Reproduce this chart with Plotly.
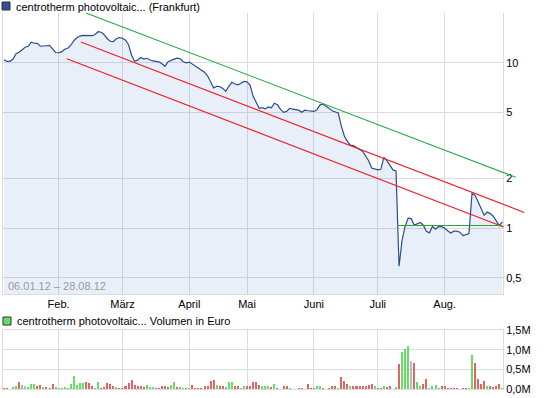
import math
import pandas as pd
import plotly.graph_objects as go

# ---------------- data ----------------
HOLIDAYS = ["2012-04-06", "2012-04-09", "2012-05-01"]
dates = [d for d in pd.bdate_range("2012-01-06", "2012-08-28") if d.strftime("%Y-%m-%d") not in HOLIDAYS]

price = [
    10.43, 10.21, 10.21, 10.53, 11.34, 11.58, 11.99, 12.42, 12.59, 13.32,
    13.13, 13.10, 12.59, 12.59, 12.68, 12.73, 12.07, 11.54, 11.50, 11.63,
    12.07, 12.24, 12.77, 13.60, 14.18, 14.51, 14.63, 14.63, 14.61, 14.58,
    14.82, 15.41, 15.30, 14.78, 13.98, 13.50, 13.41, 13.98, 14.21, 14.07,
    13.69, 12.86, 11.10, 10.21, 10.38, 10.77, 10.53, 10.65, 10.43, 10.26,
    10.21, 10.14, 9.86, 9.52, 10.14, 10.36, 10.53, 10.68, 10.58, 10.14,
    10.00, 10.10, 9.83, 9.52, 9.22, 9.01, 8.78, 8.34, 7.67, 7.05,
    7.21, 7.19, 7.00, 6.72, 7.21, 7.62, 7.44, 7.36, 7.52, 7.71,
    7.67, 7.31, 6.27, 5.81, 5.30, 5.35, 5.26, 5.41, 5.34, 5.69,
    5.57, 5.23, 5.01, 5.08, 5.30, 5.24, 5.20, 5.17, 5.02, 5.17,
    5.13, 5.10, 5.08, 5.19, 5.57, 5.63, 5.49, 5.30, 5.13, 5.04,
    4.97, 4.15, 3.61, 3.35, 3.18, 3.16, 3.07, 3.02, 2.92, 2.73,
    2.56, 2.31, 2.28, 2.25, 2.27, 2.68, 2.56, 2.39, 2.25, 2.22,
    0.589, 0.846, 1.028, 1.150, 1.142, 1.043, 1.068, 1.083, 1.043, 0.959,
    0.937, 1.028, 0.987, 1.024, 1.021, 1.002, 0.966, 0.934, 0.959, 0.959,
    0.946, 0.901, 0.914, 0.929, 1.619, 1.578, 1.447, 1.313, 1.199, 1.251,
    1.225, 1.182, 1.102, 1.036, 1.092,
]

volume_eur = [
    33000, 33000, 10000, 43000, 68000, 170000, 108000, 83000, 43000, 134000,
    134000, 83000, 108000, 43000, 50000, 33000, 134000, 50000, 33000, 33000,
    50000, 33000, 134000, 335000, 108000, 159000, 151000, 184000, 151000, 68000,
    33000, 184000, 33000, 50000, 159000, 134000, 83000, 50000, 33000, 33000,
    68000, 159000, 234000, 108000, 68000, 83000, 50000, 108000, 43000, 50000,
    33000, 33000, 83000, 68000, 50000, 108000, 170000, 50000, 50000, 33000,
    33000, 33000, 108000, 33000, 33000, 33000, 68000, 83000, 194000, 219000,
    108000, 68000, 83000, 43000, 170000, 170000, 68000, 68000, 33000, 83000,
    68000, 68000, 184000, 170000, 108000, 83000, 83000, 68000, 40000, 134000,
    33000, 12000, 83000, 68000, 33000, 12000, 12000, 33000, 33000, 8000,
    134000, 33000, 33000, 83000, 68000, 33000, 12000, 33000, 68000, 83000,
    33000, 310000, 209000, 134000, 83000, 83000, 83000, 68000, 68000, 83000,
    108000, 134000, 68000, 33000, 33000, 83000, 50000, 83000, 12000, 50000,
    638000, 940000, 1008000, 1092000, 723000, 673000, 169000, 83000, 134000, 260000,
    33000, 83000, 108000, 33000, 68000, 68000, 33000, 33000, 33000, 33000,
    12000, 33000, 33000, 33000, 864000, 655000, 260000, 134000, 194000, 68000,
    83000, 50000, 83000, 134000, 33000,
]

# u = up day, d = down day, n = unchanged
volume_direction = (
    "ddduudunuu" "udduddduuu" "uuuuuuuddd" "uudddddudd" "ddddddduuu"
    "ddddduuduu" "dudddddddd" "udduuudduu" "ddddduuudu" "dddduddddd"
    "ddduuddddd" "uddduddddd" "dduddudddu" "duuunduudd" "uuuudddddd"
    "ddduuddddu" "ddddu"
)

month_labels = {2: "Feb.", 3: "März", 4: "April", 5: "Mai", 6: "Juni", 7: "Juli", 8: "Aug."}

# trend lines: (trading-day index, price)
trend_green_x = [27.0, 168.4]
trend_green_y = [20.0, 2.03]
trend_red_upper_x = [25.3, 171.2]
trend_red_upper_y = [13.35, 1.245]
trend_red_lower_x = [20.7, 164.4]
trend_red_lower_y = [10.57, 1.018]
support_x = [129.3, 164.0]
support_y = [1.038, 1.038]

price_ticks = [0.5, 1, 2, 5, 10]
price_ticktext = ["0,5", "1", "2", "5", "10"]
vol_ticks = [0, 500000, 1000000, 1500000]
vol_ticktext = ["0,0M", "0,5M", "1,0M", "1,5M"]

TITLE_PRICE = "centrotherm photovoltaic... (Frankfurt)"
TITLE_VOL = "centrotherm photovoltaic... Volumen in Euro"

# ---------------- layout geometry ----------------
W, H = 545, 398
ML, MR, MT, MB = 3, 15, 13, 9
PW, PH = W - ML - MR, H - MT - MB
MAIN_RIGHT_PX = 503
X_RANGE = [-0.3, 164.2]
px_per_idx = (MAIN_RIGHT_PX - ML) / (X_RANGE[1] - X_RANGE[0])
Y_MIN, Y_MAX = 0.4, 20.0


def fx(px):
    return (px - ML) / PW


def fy(py):
    return (H - MB - py) / PH


n = len(price)
idx = list(range(n))
month_idx, month_txt = [], []
for i, d in enumerate(dates):
    if d.month in month_labels and (i == 0 or dates[i - 1].month != d.month):
        month_idx.append(i)
        month_txt.append(month_labels[d.month])

colors = {"u": "#66dd66", "d": "#e06666", "n": "#bbbbbb"}
bar_colors = [colors[c] for c in volume_direction]

GRID = "#dcdcdc"
FONT = "Liberation Sans"

fig = go.Figure()

# baseline for the area fill
fig.add_trace(go.Scatter(x=idx, y=[Y_MIN] * n, mode="lines", line=dict(width=0),
                         hoverinfo="skip", showlegend=False, xaxis="x", yaxis="y"))
fig.add_trace(go.Scatter(x=idx, y=price, mode="lines", line=dict(color="#2a4d8f", width=1.2),
                         fill="tonexty", fillcolor="rgba(70,120,200,0.12)",
                         showlegend=False, xaxis="x", yaxis="y"))

# trend lines on an overlay subplot that extends past the plot's right edge
for xs, ys, col in [
    (trend_green_x, trend_green_y, "#22aa44"),
    (trend_red_upper_x, trend_red_upper_y, "#ee1c24"),
    (trend_red_lower_x, trend_red_lower_y, "#ee1c24"),
    (support_x, support_y, "#33a033"),
]:
    fig.add_trace(go.Scatter(x=xs, y=ys, mode="lines", line=dict(color=col, width=1.1),
                             showlegend=False, xaxis="x3", yaxis="y3"))

fig.add_trace(go.Bar(x=idx, y=volume_eur, marker=dict(color=bar_colors, line=dict(width=0)),
                     width=0.66, showlegend=False, xaxis="x2", yaxis="y2"))

main_dom = [0, (MAIN_RIGHT_PX - ML) / PW]
price_dom = [fy(294), 1]
vol_dom = [0, fy(330)]

fig.update_layout(
    width=W, height=H,
    margin=dict(l=ML, r=MR, t=MT, b=MB),
    paper_bgcolor="white", plot_bgcolor="rgba(0,0,0,0)",
    font=dict(family=FONT, size=11, color="#000000"),
    bargap=0,
    xaxis=dict(domain=main_dom, range=X_RANGE, anchor="y", tickmode="array",
               tickvals=month_idx, ticktext=month_txt, showgrid=True, gridcolor=GRID,
               gridwidth=1, showline=True, linecolor=GRID, ticks="", zeroline=False,
               tickfont=dict(size=11)),
    yaxis=dict(domain=price_dom, type="log", range=[math.log10(Y_MIN), math.log10(Y_MAX)],
               anchor="x", side="right", tickmode="array", tickvals=price_ticks,
               ticktext=price_ticktext, showgrid=True, gridcolor=GRID, showline=True,
               mirror=True, linecolor=GRID, ticks="", zeroline=False,
               tickfont=dict(size=11)),
    xaxis2=dict(domain=main_dom, range=X_RANGE, anchor="y2", tickmode="array",
                tickvals=month_idx, showticklabels=False, showgrid=True, gridcolor=GRID,
                showline=True, mirror=True, linecolor=GRID, ticks="", zeroline=False),
    yaxis2=dict(domain=vol_dom, range=[0, 1500000], anchor="x2", side="right",
                tickmode="array", tickvals=vol_ticks, ticktext=vol_ticktext,
                showgrid=True, gridcolor=GRID, showline=True, mirror=True, linecolor=GRID,
                ticks="", zeroline=False, tickfont=dict(size=11)),
    xaxis3=dict(domain=[0, 1], range=[X_RANGE[0], X_RANGE[0] + PW / px_per_idx],
                anchor="y3", visible=False),
    yaxis3=dict(domain=price_dom, type="log", range=[math.log10(Y_MIN), math.log10(Y_MAX)],
                anchor="x3", visible=False),
)

shapes = [
    dict(type="rect", xref="paper", yref="paper", x0=fx(2), x1=fx(10), y0=fy(10), y1=fy(2),
         fillcolor="#2f4f9a", line=dict(color="#333333", width=1)),
    dict(type="rect", xref="paper", yref="paper", x0=fx(3), x1=fx(11), y0=fy(325), y1=fy(317),
         fillcolor="#66dd66", line=dict(color="#333333", width=1)),
]
fig.update_layout(shapes=shapes)

date_range = f"{dates[0].strftime('%d.%m.%y')} – {dates[-1].strftime('%d.%m.%y')}"
annotations = [
    dict(text=TITLE_PRICE, x=fx(14), y=fy(7), xref="paper", yref="paper", xanchor="left",
         yanchor="middle", showarrow=False, font=dict(size=11, color="#000000")),
    dict(text=TITLE_VOL, x=fx(15), y=fy(321), xref="paper", yref="paper", xanchor="left",
         yanchor="middle", showarrow=False, font=dict(size=11, color="#000000")),
    dict(text=date_range, x=fx(6), y=fy(286), xref="paper", yref="paper", xanchor="left",
         yanchor="middle", showarrow=False, font=dict(size=11, color="#9a9a9a")),
]
fig.update_layout(annotations=annotations)

fig.write_html(
    "out.html",
    config={"displayModeBar": False, "staticPlot": True},
    post_script="document.body.style.margin='0';document.body.style.overflow='hidden';",
)
